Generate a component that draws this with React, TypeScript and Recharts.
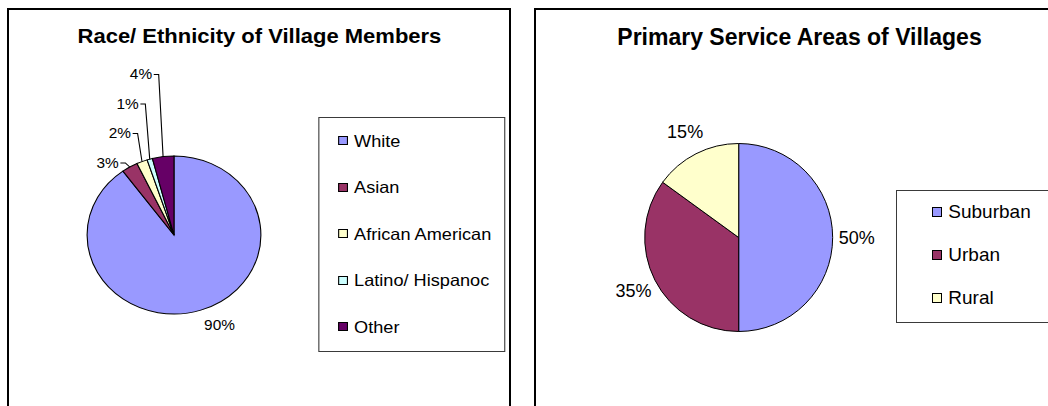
import { PieChart, Pie, Cell, Legend } from 'recharts'

const raceNames = ['White', 'Asian', 'African American', 'Latino/ Hispanoc', 'Other']
const raceShares = [90, 3, 2, 1, 4]

const areaNames = ['Suburban', 'Urban', 'Rural']
const areaShares = [50, 35, 15]

const raceColors = ['#9999FF', '#993366', '#FFFFCC', '#CCFFFF', '#660066']
const areaColors = ['#9999FF', '#993366', '#FFFFCC']

const raceData = raceNames.map((name, i) => ({ name, value: raceShares[i] }))
const areaData = areaNames.map((name, i) => ({ name, value: areaShares[i] }))

const FONT = '"Liberation Sans", Arial, Helvetica, sans-serif'
const RAD = Math.PI / 180
// the left picture is a little wider than it is tall
const STRETCH = 1.1

interface BoxLegendProps {
  payload?: any[]
  names: string[]
  colors: string[]
  width: number
  height: number
  firstRow: number
  rowGap: number
  swatchX: number
  swatchW: number
  swatchH: number
  textX: number
  fontSize: number
}

function BoxLegend({ payload, names, colors, width, height, firstRow, rowGap, swatchX, swatchW, swatchH, textX, fontSize }: BoxLegendProps) {
  // keep the slice order, not the alphabetical one
  const items = [...(payload || [])].sort((a: any, b: any) => names.indexOf(a.value) - names.indexOf(b.value))
  return (
    <div
      style={{
        position: 'relative',
        width,
        height,
        boxSizing: 'border-box',
        border: '1px solid #3a3a3a',
        background: '#fff',
        fontFamily: FONT,
      }}
    >
      {items.map((entry: any, i: number) => {
        const mid = firstRow + i * rowGap
        const k = names.indexOf(entry.value)
        return (
          <div key={entry.value}>
            <div
              style={{
                position: 'absolute',
                left: swatchX,
                top: mid - swatchH / 2,
                width: swatchW,
                height: swatchH,
                boxSizing: 'border-box',
                border: '1px solid #000',
                background: colors[k] || entry.color,
              }}
            />
            <div
              style={{
                position: 'absolute',
                left: textX,
                top: mid - fontSize / 2,
                fontSize,
                lineHeight: 1,
                whiteSpace: 'nowrap',
                color: '#000',
              }}
            >
              {entry.value}
            </div>
          </div>
        )
      })}
    </div>
  )
}

// Excel style labels: the big slice gets its label outside, the thin ones are stacked above with leader lines
const raceLabel = (p: any) => {
  const { cx, cy, midAngle, outerRadius, index, value } = p
  const ex = cx + outerRadius * Math.cos(-midAngle * RAD)
  const ey = cy + outerRadius * Math.sin(-midAngle * RAD)
  if (index === 0) {
    return (
      <text x={ex + 17} y={ey + 15} textAnchor="middle" dominantBaseline="central" fontSize={14} fill="#000" fontFamily={FONT}>
        {value}%
      </text>
    )
  }
  const ly = cy - outerRadius + 7 - (index - 1) * 29.5
  const elbow = ex - 4
  const textEnd = elbow - 6
  return (
    <g>
      <polyline points={`${textEnd + 1.5},${ly} ${elbow},${ly} ${ex},${ey}`} fill="none" stroke="#000" strokeWidth={1} />
      <text x={textEnd} y={ly} textAnchor="end" dominantBaseline="central" fontSize={14} fill="#000" fontFamily={FONT}>
        {value}%
      </text>
    </g>
  )
}

const areaLabel = (p: any) => {
  const { cx, cy, midAngle, outerRadius, value } = p
  const r = outerRadius + 24
  const x = cx + r * Math.cos(-midAngle * RAD)
  const y = cy + r * Math.sin(-midAngle * RAD)
  return (
    <text x={x} y={y} textAnchor="middle" dominantBaseline="central" fontSize={18} fill="#000" fontFamily={FONT}>
      {value}%
    </text>
  )
}

export default function App() {
  return (
    <div style={{ position: 'absolute', left: 0, top: 0, width: 1048, height: 406, overflow: 'hidden', background: '#fff', fontFamily: FONT }}>
      <div style={{ position: 'absolute', left: 7, top: 8, width: 504, height: 430, border: '2px solid #000', boxSizing: 'border-box' }} />
      <div style={{ position: 'absolute', left: 534, top: 8, width: 540, height: 430, border: '2px solid #000', boxSizing: 'border-box' }} />

      <div style={{ position: 'absolute', left: 7, top: 8, transform: `scaleX(${STRETCH})`, transformOrigin: '0 0' }}>
        <PieChart width={458} height={398} margin={{ top: 0, right: 0, bottom: 0, left: 0 }}>
          <text x={229.5} y={34.7} textAnchor="middle" fontSize={20} fontWeight="bold" fill="#000" fontFamily={FONT}>
            Race/ Ethnicity of Village Members
          </text>
          <Pie
            data={raceData}
            dataKey="value"
            nameKey="name"
            cx={151.8}
            cy={227}
            outerRadius={79}
            startAngle={90}
            endAngle={-270}
            stroke="#000"
            strokeWidth={1}
            label={raceLabel}
            labelLine={false}
            isAnimationActive={false}
          >
            {raceData.map((d, i) => (
              <Cell key={d.name} fill={raceColors[i]} />
            ))}
          </Pie>
          <Legend
            layout="vertical"
            align="right"
            verticalAlign="middle"
            wrapperStyle={{ left: 283, top: 108.7, width: 170.4, height: 235.6 }}
            content={(props: any) => (
              <BoxLegend
                payload={props.payload}
                names={raceNames}
                colors={raceColors}
                width={170.4}
                height={235.6}
                firstRow={23.3}
                rowGap={46.5}
                swatchX={17}
                swatchW={8.5}
                swatchH={9}
                textX={31.5}
                fontSize={16.5}
              />
            )}
          />
        </PieChart>
      </div>

      <div style={{ position: 'absolute', left: 534, top: 8 }}>
        <PieChart width={560} height={398} margin={{ top: 0, right: 0, bottom: 0, left: 0 }}>
          <text x={265.5} y={37} textAnchor="middle" fontSize={23} fontWeight="bold" fill="#000" fontFamily={FONT}>
            Primary Service Areas of Villages
          </text>
          <Pie
            data={areaData}
            dataKey="value"
            nameKey="name"
            cx={204.7}
            cy={229.5}
            outerRadius={94}
            startAngle={90}
            endAngle={-270}
            stroke="#000"
            strokeWidth={1}
            label={areaLabel}
            labelLine={false}
            isAnimationActive={false}
          >
            {areaData.map((d, i) => (
              <Cell key={d.name} fill={areaColors[i]} />
            ))}
          </Pie>
          <Legend
            layout="vertical"
            align="right"
            verticalAlign="middle"
            wrapperStyle={{ left: 362.3, top: 182, width: 200, height: 133.3 }}
            content={(props: any) => (
              <BoxLegend
                payload={props.payload}
                names={areaNames}
                colors={areaColors}
                width={200}
                height={133.3}
                firstRow={20.7}
                rowGap={43}
                swatchX={34.4}
                swatchW={10}
                swatchH={10}
                textX={51}
                fontSize={19}
              />
            )}
          />
        </PieChart>
      </div>
    </div>
  )
}
